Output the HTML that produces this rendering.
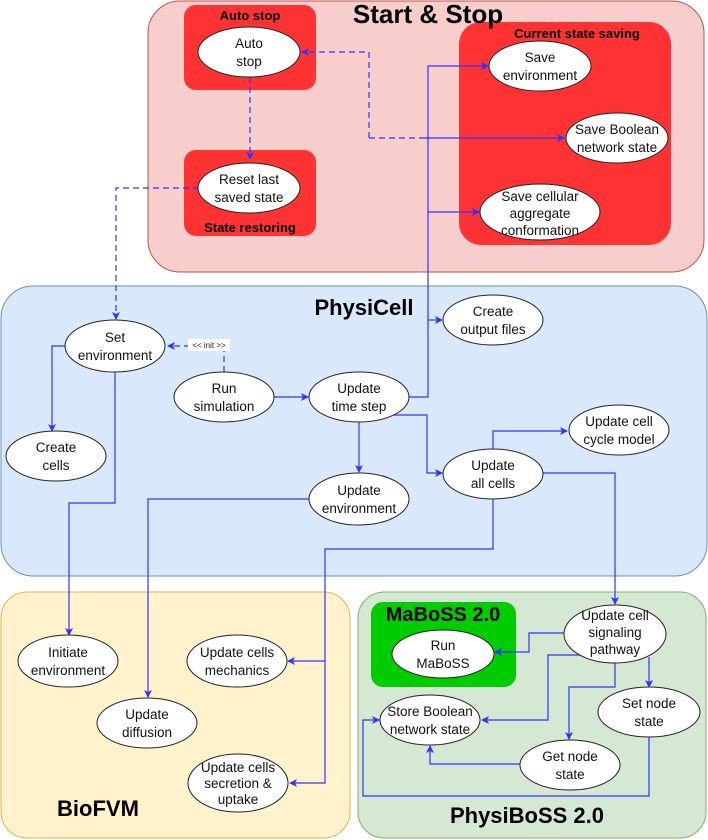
<!DOCTYPE html>
<html><head><meta charset="utf-8"><style>
html,body{margin:0;padding:0;background:#fff;width:708px;height:840px;overflow:hidden}
svg text{font-family:"Liberation Sans",sans-serif}
.n{font-size:13.5px;fill:#111;text-anchor:middle}
.t{font-weight:bold;fill:#000;text-anchor:middle}
.e{fill:#fff;stroke:#222;stroke-width:1}
.l{fill:none;stroke:#3333ff;stroke-width:1.2}
.d{fill:none;stroke:#3333ff;stroke-width:1.2;stroke-dasharray:6,4}
</style></head><body>
<svg width="708" height="840" viewBox="0 0 708 840" xmlns="http://www.w3.org/2000/svg">
<defs><marker id="a" markerWidth="8" markerHeight="8" refX="7" refY="4" orient="auto" markerUnits="userSpaceOnUse"><path d="M0,0 L8,4 L0,8 L2,4 Z" fill="#3333ff"/></marker></defs>
<rect x="148" y="1" width="556" height="271" rx="32" fill="#f8cecc" stroke="#b85450"/>
<rect x="184" y="5" width="132" height="85" rx="12" fill="#ff3333"/>
<rect x="184" y="150" width="132" height="86" rx="12" fill="#ff3333"/>
<rect x="459" y="22" width="212" height="223" rx="22" fill="#ff3333"/>
<rect x="1" y="286" width="706" height="290" rx="32" fill="#dae8fc" stroke="#6c8ebf"/>
<rect x="1" y="592" width="349" height="246" rx="26" fill="#fff2cc" stroke="#d6b656"/>
<rect x="358" y="592" width="348" height="246" rx="26" fill="#d5e8d4" stroke="#82b366"/>
<rect x="371" y="602" width="145" height="85" rx="12" fill="#00cc00"/>
<text class="t" x="428" y="23" font-size="26">Start &amp; Stop</text>
<text class="t" x="250" y="20" font-size="13">Auto stop</text>
<text class="t" x="250" y="232" font-size="13">State restoring</text>
<text class="t" x="577" y="38" font-size="13">Current state saving</text>
<text class="t" x="364" y="315" font-size="22">PhysiCell</text>
<text class="t" x="98" y="816" font-size="22">BioFVM</text>
<text class="t" x="527" y="823" font-size="22">PhysiBoSS 2.0</text>
<text class="t" x="443" y="621" font-size="20">MaBoSS 2.0</text>
<path class="d" d="M250,77 V159" marker-end="url(#a)"/>
<path class="d" d="M369,138 V52 H302" marker-end="url(#a)"/>
<path class="d" d="M369,138 H422"/>
<path class="l" d="M422,138 H564" marker-end="url(#a)"/>
<path class="d" d="M199,188 H116 V319" marker-end="url(#a)"/>
<path class="l" d="M409,397 H428 V66 H488" marker-end="url(#a)"/>
<path class="l" d="M428,212 H479" marker-end="url(#a)"/>
<path class="l" d="M428,320 H442" marker-end="url(#a)"/>
<path class="d" d="M224,372 V346 H168" marker-end="url(#a)"/>
<rect x="188" y="339" width="42" height="12" fill="#fff"/>
<text x="209" y="348" font-size="8" text-anchor="middle" fill="#222">&lt;&lt; init &gt;&gt;</text>
<path class="l" d="M66,346 H52 V431" marker-end="url(#a)"/>
<path class="l" d="M115,372 V503 H69 V635" marker-end="url(#a)"/>
<path class="l" d="M274,397 H308" marker-end="url(#a)"/>
<path class="l" d="M359,422 V472" marker-end="url(#a)"/>
<path class="l" d="M392,415 H427 V473 H442" marker-end="url(#a)"/>
<path class="l" d="M493,449 V431 H567" marker-end="url(#a)"/>
<path class="l" d="M543,473 H615 V604" marker-end="url(#a)"/>
<path class="l" d="M309,499 H148 V697" marker-end="url(#a)"/>
<path class="l" d="M493,499 V549 H325 V783 H290" marker-end="url(#a)"/>
<path class="l" d="M325,661 H288" marker-end="url(#a)"/>
<path class="l" d="M565,633 H529 V652 H495" marker-end="url(#a)"/>
<path class="l" d="M582,655 H548 V720 H482" marker-end="url(#a)"/>
<path class="l" d="M615,663 V687 H569 V739" marker-end="url(#a)"/>
<path class="l" d="M649,657 V687" marker-end="url(#a)"/>
<path class="l" d="M520,764 H430 V746" marker-end="url(#a)"/>
<path class="l" d="M649,737 V796 H363 V720 H379" marker-end="url(#a)"/>
<ellipse class="e" cx="249" cy="52" rx="51" ry="25"/>
<text class="n"><tspan x="249" y="48">Auto</tspan><tspan x="249" y="66">stop</tspan></text>
<ellipse class="e" cx="249" cy="188" rx="51" ry="25"/>
<text class="n"><tspan x="249" y="184">Reset last</tspan><tspan x="249" y="202">saved state</tspan></text>
<ellipse class="e" cx="540" cy="66" rx="51" ry="25"/>
<text class="n"><tspan x="540" y="62">Save</tspan><tspan x="540" y="80">environment</tspan></text>
<ellipse class="e" cx="617" cy="138" rx="51" ry="25"/>
<text class="n"><tspan x="617" y="134">Save Boolean</tspan><tspan x="617" y="152">network state</tspan></text>
<ellipse class="e" cx="540" cy="212" rx="60" ry="28"/>
<text class="n"><tspan x="540" y="201">Save cellular</tspan><tspan x="540" y="218">aggregate</tspan><tspan x="540" y="235">conformation</tspan></text>
<ellipse class="e" cx="115" cy="346" rx="50" ry="26"/>
<text class="n"><tspan x="115" y="342">Set</tspan><tspan x="115" y="360">environment</tspan></text>
<ellipse class="e" cx="224" cy="397" rx="50" ry="25"/>
<text class="n"><tspan x="224" y="393">Run</tspan><tspan x="224" y="411">simulation</tspan></text>
<ellipse class="e" cx="359" cy="397" rx="50" ry="25"/>
<text class="n"><tspan x="359" y="393">Update</tspan><tspan x="359" y="411">time step</tspan></text>
<ellipse class="e" cx="493" cy="320" rx="50" ry="25"/>
<text class="n"><tspan x="493" y="316">Create</tspan><tspan x="493" y="334">output files</tspan></text>
<ellipse class="e" cx="56" cy="456" rx="50" ry="25"/>
<text class="n"><tspan x="56" y="452">Create</tspan><tspan x="56" y="470">cells</tspan></text>
<ellipse class="e" cx="619" cy="430" rx="50" ry="25"/>
<text class="n"><tspan x="619" y="426">Update cell</tspan><tspan x="619" y="444">cycle model</tspan></text>
<ellipse class="e" cx="493" cy="474" rx="50" ry="25"/>
<text class="n"><tspan x="493" y="470">Update</tspan><tspan x="493" y="488">all cells</tspan></text>
<ellipse class="e" cx="359" cy="499" rx="50" ry="26"/>
<text class="n"><tspan x="359" y="495">Update</tspan><tspan x="359" y="513">environment</tspan></text>
<ellipse class="e" cx="68" cy="661" rx="50" ry="26"/>
<text class="n"><tspan x="68" y="657">Initiate</tspan><tspan x="68" y="675">environment</tspan></text>
<ellipse class="e" cx="237" cy="661" rx="50" ry="26"/>
<text class="n"><tspan x="237" y="657">Update cells</tspan><tspan x="237" y="675">mechanics</tspan></text>
<ellipse class="e" cx="147" cy="723" rx="50" ry="25"/>
<text class="n"><tspan x="147" y="719">Update</tspan><tspan x="147" y="737">diffusion</tspan></text>
<ellipse class="e" cx="238" cy="783" rx="50" ry="29"/>
<text class="n"><tspan x="238" y="772">Update cells</tspan><tspan x="238" y="788">secretion &amp;</tspan><tspan x="238" y="804">uptake</tspan></text>
<ellipse class="e" cx="443" cy="654" rx="51" ry="24"/>
<text class="n"><tspan x="443" y="650">Run</tspan><tspan x="443" y="668">MaBoSS</tspan></text>
<ellipse class="e" cx="615" cy="634" rx="51" ry="29"/>
<text class="n"><tspan x="615" y="620">Update cell</tspan><tspan x="615" y="637">signaling</tspan><tspan x="615" y="654">pathway</tspan></text>
<ellipse class="e" cx="649" cy="712" rx="51" ry="25"/>
<text class="n"><tspan x="649" y="708">Set node</tspan><tspan x="649" y="726">state</tspan></text>
<ellipse class="e" cx="430" cy="720" rx="50" ry="25"/>
<text class="n"><tspan x="430" y="716">Store Boolean</tspan><tspan x="430" y="734">network state</tspan></text>
<ellipse class="e" cx="570" cy="765" rx="50" ry="25"/>
<text class="n"><tspan x="570" y="761">Get node</tspan><tspan x="570" y="779">state</tspan></text>
</svg>
</body></html>
